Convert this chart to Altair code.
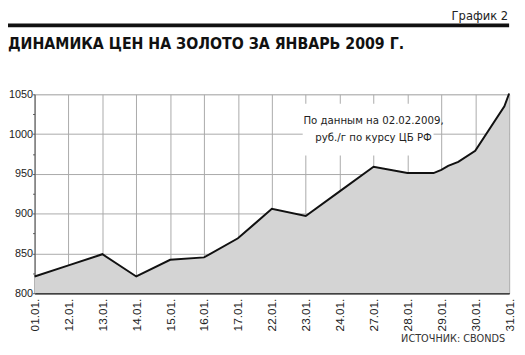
import altair as alt
import pandas as pd

# Category labels of the x axis (trading days)
dates = ["01.01.", "12.01.", "13.01.", "14.01.", "15.01.", "16.01.", "17.01.",
         "22.01.", "23.01.", "24.01.", "27.01.", "28.01.", "29.01.", "30.01.", "31.01."]

# Line vertices: position along the date axis (index) and price, rub/g
pos = [0, 1, 2, 3, 4, 5, 6, 7, 8, 9, 10, 11, 11.77, 12, 12.2, 12.5, 13, 13.86, 14]
gold = [821, 835, 849, 821, 842, 845, 869, 906, 897, 928, 959, 951, 951, 955, 960, 965, 979, 1035, 1051]

y_ticks = list(range(800, 1051, 25))

header = "График  2"
title = "ДИНАМИКА ЦЕН НА ЗОЛОТО ЗА ЯНВАРЬ 2009 Г."
source = "ИСТОЧНИК: CBONDS"
note_lines = ["По данным на 02.02.2009,", "руб./г по курсу ЦБ РФ"]
note_x = 10
note_y = [1017, 995]
box_x = [7.91, 11.77]
box_y = [973, 1038]

df = pd.DataFrame({"pos": pos, "gold": gold})
notes = pd.DataFrame({"x": [note_x] * len(note_lines), "y": note_y, "t": note_lines})
box = pd.DataFrame({"x": [box_x[0]], "x2": [box_x[1]], "y": [box_y[0]], "y2": [box_y[1]]})

label_arr = "[" + ",".join("'" + d + "'" for d in dates) + "]"
COND = "DejaVu Sans Condensed, Liberation Sans, sans-serif"
SANS = "Liberation Sans, Arial, sans-serif"

W, H = 482, 202

xscale = alt.Scale(domain=[0, len(dates) - 1], nice=False, zero=False)
yscale = alt.Scale(domain=[800, 1050], nice=False, zero=False)

x_axis = alt.Axis(values=list(range(len(dates))), labelExpr=label_arr + "[datum.value]",
                  labelAngle=270, ticks=False, labelPadding=5, grid=True,
                  labelOverlap=False, labelBound=False, labelFlush=False,
                  gridColor="#aaaaaa", gridWidth=1, domainColor="#111111", domainWidth=1.5,
                  labelFont=SANS, labelFontSize=12, labelColor="#222222", title=None)
y_axis = alt.Axis(values=y_ticks, format="d",
                  labelExpr="datum.value % 50 === 0 ? datum.label : ''",
                  grid=True, gridColor="#aaaaaa", gridWidth=1,
                  gridOpacity=alt.condition("datum.value % 50 === 0", alt.value(1), alt.value(0)),
                  tickSize=2, tickColor="#555555", domainColor="#555555", domainWidth=1,
                  labelPadding=0, labelOverlap=False, labelFlush=False,
                  labelFont=SANS, labelFontSize=11, labelColor="#222222",
                  title=None)

X = alt.X("pos:Q", scale=xscale, axis=x_axis)
Y = alt.Y("gold:Q", scale=yscale, axis=y_axis)

area = alt.Chart(df).mark_area(color="#d4d4d4", opacity=1).encode(x=X, y=Y, y2=alt.datum(800))
line = alt.Chart(df).mark_line(color="#111111", strokeWidth=2).encode(x=X, y=Y)

rect = alt.Chart(box).mark_rect(color="white").encode(
    x=alt.X("x:Q", scale=xscale, axis=x_axis), x2="x2:Q",
    y=alt.Y("y:Q", scale=yscale, axis=y_axis), y2="y2:Q",
)
note = alt.Chart(notes).mark_text(font=COND, fontSize=11.5, color="#222222",
                                  align="center", baseline="middle").encode(
    x=alt.X("x:Q", scale=xscale, axis=x_axis), y=alt.Y("y:Q", scale=yscale, axis=y_axis),
    text="t:N"
)

hdr = alt.Chart(pd.DataFrame({"t": [header]})).mark_text(
    font=COND, fontSize=13, color="#222222", align="right", baseline="alphabetic"
).encode(x=alt.value(W - 1), y=alt.value(-75), text="t:N")

bar_rule = alt.Chart(pd.DataFrame({"a": [0]})).mark_rule(color="#111111", strokeWidth=4).encode(
    x=alt.value(-27), x2=alt.value(W), y=alt.value(-70)
)

ttl = alt.Chart(pd.DataFrame({"t": [title]})).mark_text(
    font=COND, fontSize=16, fontWeight="bold", color="#111111", align="left",
    baseline="alphabetic"
).encode(x=alt.value(-27), y=alt.value(-46), text="t:N")

src = alt.Chart(pd.DataFrame({"t": [source]})).mark_text(
    font=COND, fontSize=11, color="#333333", align="right", baseline="middle"
).encode(x=alt.value(W - 4), y=alt.value(249), text="t:N")

chart = alt.layer(area, line, rect, note, hdr, bar_rule, ttl, src).properties(
    width=W, height=H,
    padding={"left": 27, "top": 85, "right": 8, "bottom": 52},
    autosize="none",
).configure_view(stroke=None).configure(background="white").configure_axisX(labelOverlap=False)

chart.save("out.html", embed_options={"renderer": "svg", "actions": False})
